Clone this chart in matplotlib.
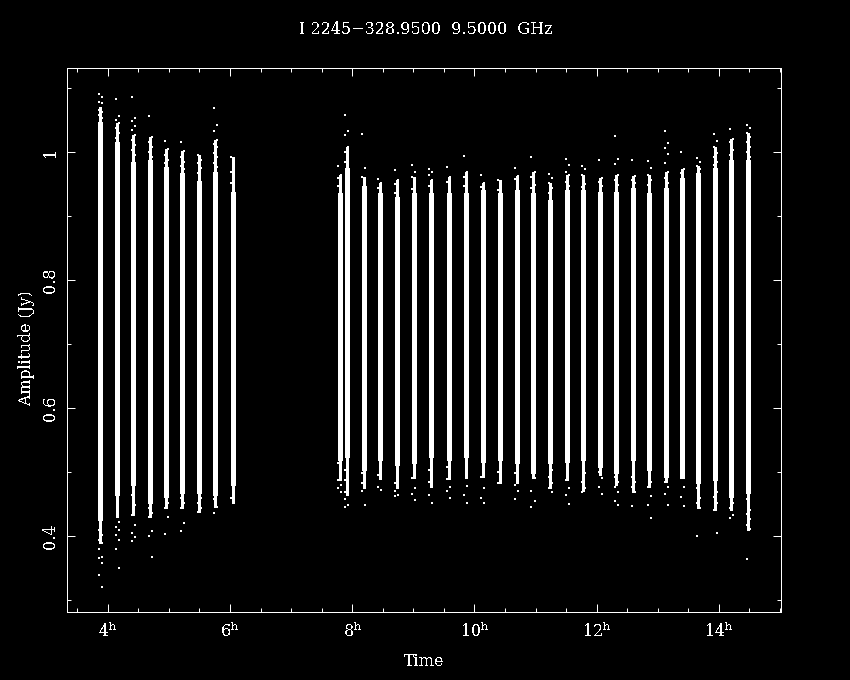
import matplotlib
matplotlib.use("Agg")
import matplotlib.pyplot as plt
from matplotlib.ticker import MultipleLocator, FixedLocator, FixedFormatter

title = "I 2245\u2212328.9500  9.5000  GHz"
x_label = "Time"
y_label = "Amplitude (Jy)"
x_ticks = [4, 6, 8, 10, 12, 14]
x_tick_labels = ["$4^{\\mathrm{h}}$", "$6^{\\mathrm{h}}$", "$8^{\\mathrm{h}}$",
                 "$10^{\\mathrm{h}}$", "$12^{\\mathrm{h}}$", "$14^{\\mathrm{h}}$"]
y_ticks = [0.4, 0.6, 0.8, 1.0]
y_tick_labels = ["0.4", "0.6", "0.8", "1"]

# scan times (hours)
scan_time = [3.877, 4.156, 4.418, 4.697, 4.959, 5.221, 5.5, 5.762, 6.041,
             7.795, 7.91, 8.189, 8.451, 8.73, 9.008, 9.287, 9.582, 9.861,
             10.139, 10.418, 10.697, 10.959, 11.238, 11.516, 11.779, 12.057,
             12.32, 12.598, 12.861, 13.139, 13.402, 13.664, 13.943, 14.205, 14.484]
# dense core of each scan
core_top = [1.047, 1.016, 0.984, 0.988, 0.977, 0.967, 0.955, 0.969, 0.938,
            0.936, 0.975, 0.947, 0.936, 0.930, 0.936, 0.936, 0.936, 0.936,
            0.941, 0.936, 0.941, 0.936, 0.925, 0.941, 0.941, 0.938, 0.938,
            0.944, 0.936, 0.944, 0.959, 0.967, 0.975, 0.988, 0.988]
core_bot = [0.425, 0.464, 0.480, 0.452, 0.461, 0.467, 0.467, 0.464, 0.480,
            0.519, 0.523, 0.503, 0.519, 0.511, 0.514, 0.523, 0.519, 0.523,
            0.516, 0.519, 0.514, 0.498, 0.514, 0.516, 0.519, 0.508, 0.498,
            0.519, 0.503, 0.492, 0.491, 0.483, 0.488, 0.461, 0.467]
# sparser fringe around the core
fringe_top = [1.070, 1.045, 1.027, 1.023, 1.005, 1.002, 0.995, 1.019, 0.992,
              0.964, 1.008, 0.961, 0.952, 0.956, 0.961, 0.956, 0.961, 0.969,
              0.952, 0.956, 0.962, 0.969, 0.952, 0.964, 0.964, 0.959, 0.964,
              0.962, 0.964, 0.969, 0.973, 0.978, 1.008, 1.020, 1.030]
fringe_bot = [0.389, 0.430, 0.433, 0.430, 0.444, 0.444, 0.437, 0.445, 0.452,
              0.488, 0.464, 0.475, 0.489, 0.475, 0.491, 0.477, 0.489, 0.491,
              0.492, 0.483, 0.483, 0.491, 0.475, 0.488, 0.470, 0.495, 0.480,
              0.469, 0.477, 0.484, 0.491, 0.444, 0.441, 0.441, 0.409]
# individual high and low points per scan
upper_pts = [
    [1.091, 1.086, 1.078, 1.077, 1.066, 1.063, 1.058, 1.053],
    [1.083, 1.056, 1.050, 1.045, 1.038, 1.030, 1.022],
    [1.086, 1.053, 1.048, 1.041, 1.034, 1.027, 1.019, 1.011, 1.003, 0.995],
    [1.056, 1.023, 1.016, 1.008, 1.000, 0.992],
    [1.017, 1.005, 0.995, 0.988, 0.983],
    [1.016, 1.002, 0.992, 0.984, 0.978, 0.973],
    [0.995, 0.988, 0.983, 0.975, 0.967],
    [1.069, 1.042, 1.033, 1.019, 1.013, 1.008, 0.998, 0.992, 0.983, 0.977],
    [0.992, 0.977, 0.969, 0.961, 0.952],
    [0.978, 0.964, 0.959, 0.953, 0.947, 0.941],
    [1.058, 1.033, 1.027, 1.008, 1.000, 0.992, 0.984],
    [1.028, 0.975, 0.961, 0.953],
    [0.958, 0.952, 0.944],
    [0.972, 0.956, 0.950, 0.942, 0.935],
    [0.980, 0.969, 0.961, 0.950, 0.942],
    [0.973, 0.968, 0.964, 0.956, 0.947],
    [0.977, 0.961, 0.953, 0.945],
    [0.994, 0.969, 0.961, 0.955, 0.947],
    [0.964, 0.952, 0.945],
    [0.956, 0.948, 0.941],
    [0.975, 0.962, 0.958, 0.952],
    [0.992, 0.969, 0.961, 0.948, 0.944],
    [0.966, 0.959, 0.952, 0.944, 0.936],
    [0.989, 0.980, 0.969, 0.964, 0.953, 0.947],
    [0.978, 0.973, 0.964, 0.950, 0.945],
    [0.988, 0.959, 0.953, 0.947],
    [1.025, 0.989, 0.981, 0.964, 0.956, 0.948],
    [0.988, 0.962, 0.956, 0.952],
    [0.986, 0.975, 0.964, 0.956, 0.948],
    [1.033, 1.014, 1.006, 0.997, 0.983, 0.969, 0.959, 0.952],
    [1.000, 0.973, 0.967],
    [0.991, 0.984, 0.978, 0.973],
    [1.028, 1.017, 1.008, 0.998, 0.992, 0.984, 0.980],
    [1.036, 1.020, 1.016, 1.003, 0.995],
    [1.042, 1.037, 1.030, 1.023, 1.016, 1.008, 1.000, 0.992],
]
lower_pts = [
    [0.409, 0.401, 0.394, 0.389, 0.380, 0.367, 0.366, 0.358, 0.339, 0.320],
    [0.422, 0.414, 0.409, 0.402, 0.394, 0.380, 0.350],
    [0.464, 0.448, 0.433, 0.417, 0.405, 0.398, 0.392],
    [0.444, 0.436, 0.430, 0.408, 0.400, 0.367],
    [0.452, 0.444, 0.430, 0.403],
    [0.459, 0.452, 0.444, 0.420, 0.408],
    [0.459, 0.452, 0.444, 0.438],
    [0.458, 0.445, 0.436],
    [0.470, 0.459, 0.452],
    [0.514, 0.503, 0.488, 0.480, 0.475, 0.469],
    [0.514, 0.503, 0.495, 0.488, 0.477, 0.469, 0.464, 0.458, 0.448, 0.445],
    [0.498, 0.491, 0.483, 0.475, 0.470, 0.448],
    [0.506, 0.495, 0.489, 0.477, 0.472],
    [0.495, 0.483, 0.475, 0.470, 0.464, 0.463],
    [0.498, 0.491, 0.475, 0.466, 0.456],
    [0.508, 0.503, 0.492, 0.484, 0.477, 0.464, 0.452],
    [0.508, 0.498, 0.489, 0.477, 0.470, 0.459],
    [0.478, 0.464, 0.452],
    [0.503, 0.492, 0.475, 0.459, 0.452],
    [0.506, 0.500, 0.489, 0.483],
    [0.498, 0.488, 0.480, 0.470, 0.458],
    [0.491, 0.470, 0.455, 0.445],
    [0.503, 0.492, 0.483, 0.475, 0.469],
    [0.488, 0.475, 0.464, 0.450],
    [0.498, 0.484, 0.475, 0.469],
    [0.500, 0.491, 0.477, 0.466],
    [0.492, 0.484, 0.477, 0.469, 0.455, 0.448],
    [0.492, 0.484, 0.477, 0.469, 0.447],
    [0.484, 0.477, 0.463, 0.448, 0.428],
    [0.484, 0.477, 0.466, 0.448],
    [0.477, 0.461, 0.447],
    [0.475, 0.459, 0.452, 0.444, 0.400],
    [0.469, 0.461, 0.452, 0.441, 0.405],
    [0.452, 0.444, 0.433, 0.428],
    [0.458, 0.441, 0.434, 0.426, 0.417, 0.411, 0.364],
]

plt.rcParams.update({
    "font.family": ["DejaVu Serif"],
    "mathtext.fontset": "dejavuserif",
    "text.antialiased": False,
    "lines.antialiased": False,
    "patch.antialiased": False,
    "text.color": "white",
})

fig = plt.figure(figsize=(8.5, 6.8), dpi=100, facecolor="black")
ax = fig.add_axes([67.0 / 850, 1 - 612.0 / 680, 714 / 850, 544 / 680], facecolor="black")

PX = 72 / 100
ax.vlines(scan_time, core_bot, core_top, color="white", linewidth=4.5 * PX, antialiased=False)
ax.vlines(scan_time, fringe_bot, fringe_top, color="white", linewidth=3 * PX, antialiased=False)
side = 1.5 / 61
for t, up, lo in zip(scan_time, upper_pts, lower_pts):
    pts = up + lo
    xs = [t + (side if i % 2 else -side) for i in range(len(pts))]
    ax.scatter(xs, pts, marker="s", s=(2 * PX) ** 2, color="white", linewidths=0, antialiased=False)

ax.set_xlim(3.332, 15.018)
ax.set_ylim(0.281, 1.131)
ax.xaxis.set_major_locator(FixedLocator(x_ticks))
ax.xaxis.set_major_formatter(FixedFormatter(x_tick_labels))
ax.xaxis.set_minor_locator(MultipleLocator(0.5))
ax.yaxis.set_major_locator(FixedLocator(y_ticks))
ax.yaxis.set_major_formatter(FixedFormatter(y_tick_labels))
ax.yaxis.set_minor_locator(MultipleLocator(0.1))
ax.tick_params(which="major", direction="in", length=8 * PX, width=PX, color="white",
               top=True, right=True, labelcolor="white", labelsize=11.5)
ax.tick_params(axis="x", which="major", pad=7)
ax.tick_params(axis="y", which="major", pad=6)
ax.tick_params(which="minor", direction="in", length=4 * PX, width=PX, color="white",
               top=True, right=True)
for lab in ax.get_yticklabels():
    lab.set_rotation(90)
    lab.set_va("center")
for s in ax.spines.values():
    s.set_color("white")
    s.set_linewidth(PX)

fig.text(426 / 850, 1 - 29 / 680, title, ha="center", va="center", fontsize=11.5)
fig.text(424.5 / 850, 1 - 661 / 680, x_label, ha="center", va="center", fontsize=11.5)
fig.text(27 / 850, 1 - 348 / 680, y_label, ha="center", va="center", rotation=90, fontsize=11.3)

fig.savefig("out.png", dpi=100, facecolor="black")
